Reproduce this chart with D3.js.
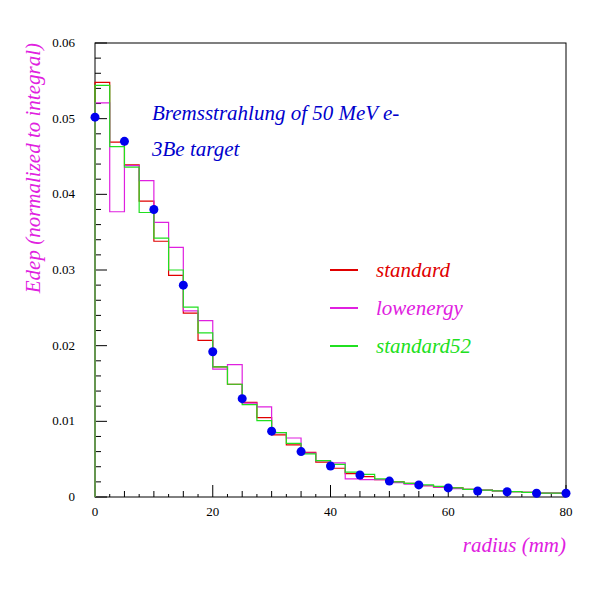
<!DOCTYPE html>
<html><head><meta charset="utf-8">
<script src="https://cdn.jsdelivr.net/npm/d3@7"></script>
<style>body{margin:0;background:#fff}</style></head>
<body><div id="chart"></div>
<script>
// bin edges every 2.5 mm from 0 to 80
var binWidth = 2.5;
var standard = [0.0548,0.0469,0.0439,0.0391,0.0338,0.0293,0.0243,0.0207,0.0172,0.0149,0.0125,0.0105,0.0082,0.0069,0.0059,0.0046,0.0038,0.0031,0.0027,0.0023,0.0020,0.0018,0.0015,0.0013,0.0012,0.0010,0.0009,0.0008,0.0007,0.0006,0.0005,0.0005];
var lowenergy = [0.0521,0.0377,0.0438,0.0418,0.0363,0.0330,0.0246,0.0233,0.0169,0.0175,0.0124,0.0119,0.0085,0.0078,0.0058,0.0048,0.0045,0.0024,0.0023,0.0023,0.0019,0.0017,0.0015,0.0013,0.0011,0.0010,0.0009,0.0008,0.0007,0.0006,0.0005,0.0005];
var standard52 = [0.0544,0.0463,0.0436,0.0376,0.0342,0.0300,0.0251,0.0217,0.0172,0.0149,0.0122,0.0101,0.0085,0.0071,0.0057,0.0048,0.0043,0.0033,0.0030,0.0024,0.0020,0.0018,0.0016,0.0014,0.0012,0.0010,0.0009,0.0008,0.0007,0.0006,0.0005,0.0005];
var pointX = [0,5,10,15,20,25,30,35,40,45,50,55,60,65,70,75,80];
var pointY = [0.0502,0.0470,0.0380,0.0280,0.0192,0.0130,0.0087,0.0060,0.0041,0.0029,0.0021,0.0016,0.0012,0.0008,0.0007,0.0005,0.0005];
var yTicks = [0,0.01,0.02,0.03,0.04,0.05,0.06];
var xTicks = [0,20,40,60,80];

var W = 600, H = 600;
var svg = d3.select("#chart").append("svg").attr("width", W).attr("height", H);
var x = d3.scaleLinear().domain([0, 80]).range([95, 566]);
var y = d3.scaleLinear().domain([0, 0.06]).range([497, 43]);

var serif = "'Liberation Serif','DejaVu Serif',serif";

/* <!-- frame --> */
svg.append("rect").attr("x", 95).attr("y", 43).attr("width", 471).attr("height", 454)
  .attr("fill", "none").attr("stroke", "#000");

/* <!-- axes --> */
var gx = svg.append("g").attr("transform", "translate(0,497)")
  .call(d3.axisTop(x).tickValues(d3.range(0, 80.01, 2.5)).tickSize(0).tickFormat(""));
svg.append("g").selectAll("line").data(d3.range(0, 80.01, 2.5)).join("line")
  .attr("x1", d => x(d)).attr("x2", d => x(d)).attr("y1", 497)
  .attr("y2", d => d % 20 === 0 ? 485 : (d % 5 === 0 ? 491 : 494)).attr("stroke", "#000");
gx.select(".domain").remove();
svg.append("g").selectAll("text").data(xTicks).join("text")
  .attr("x", d => x(d)).attr("y", 516).attr("text-anchor", "middle")
  .style("font-family", serif).style("font-size", "13px").text(d => d);

svg.append("g").selectAll("line").data(d3.range(0, 0.0601, 0.002)).join("line")
  .attr("x1", 95).attr("x2", (d, i) => i % 5 === 0 ? 107 : 101)
  .attr("y1", d => y(d)).attr("y2", d => y(d)).attr("stroke", "#000");
svg.append("g").selectAll("text").data(yTicks).join("text")
  .attr("x", 75).attr("y", d => y(d) + 4).attr("text-anchor", "end")
  .style("font-family", serif).style("font-size", "13px").text(d => d === 0 ? "0" : d3.format(".2f")(d));

/* <!-- histograms --> */
var step = vals => {
  var pts = [[x(0), y(0)]];
  vals.forEach((v, i) => { pts.push([x(i * binWidth), y(v)]); pts.push([x((i + 1) * binWidth), y(v)]); });
  pts.push([x(80), y(0)]);
  return d3.line()(pts);
};
[[standard, "#e00000"], [lowenergy, "#e020e0"], [standard52, "#20e020"]].forEach(s =>
  svg.append("path").attr("d", step(s[0])).attr("fill", "none").attr("stroke", s[1]).attr("stroke-width", 1.2));

svg.append("g").selectAll("circle").data(pointX).join("circle")
  .attr("cx", d => x(d)).attr("cy", (d, i) => y(pointY[i])).attr("r", 4.5).attr("fill", "#0000ee");

/* <!-- text --> */
svg.append("text").attr("x", 152).attr("y", 120).attr("fill", "#0000cc")
  .style("font-family", serif).style("font-style", "italic").style("font-size", "21px")
  .text("Bremsstrahlung of 50 MeV e-");
svg.append("text").attr("x", 152).attr("y", 156).attr("fill", "#0000cc")
  .style("font-family", serif).style("font-style", "italic").style("font-size", "21px")
  .text("3Be target");

var legend = [["standard", "#e00000", 270], ["lowenergy", "#e020e0", 308], ["standard52", "#20e020", 346]];
legend.forEach(l => {
  svg.append("line").attr("x1", 330).attr("x2", 358).attr("y1", l[2]).attr("y2", l[2])
    .attr("stroke", l[1]).attr("stroke-width", 2);
  svg.append("text").attr("x", 376).attr("y", l[2] + 7).attr("fill", l[1])
    .style("font-family", serif).style("font-style", "italic").style("font-size", "21px").text(l[0]);
});

svg.append("text").attr("x", 566).attr("y", 552).attr("text-anchor", "end").attr("fill", "#e020e0")
  .style("font-family", serif).style("font-style", "italic").style("font-size", "21px").text("radius (mm)");
svg.append("text").attr("transform", "translate(40,43) rotate(-90)").attr("text-anchor", "end").attr("fill", "#e020e0")
  .style("font-family", serif).style("font-style", "italic").style("font-size", "21px").text("Edep (normalized to integral)");
</script></body></html>
